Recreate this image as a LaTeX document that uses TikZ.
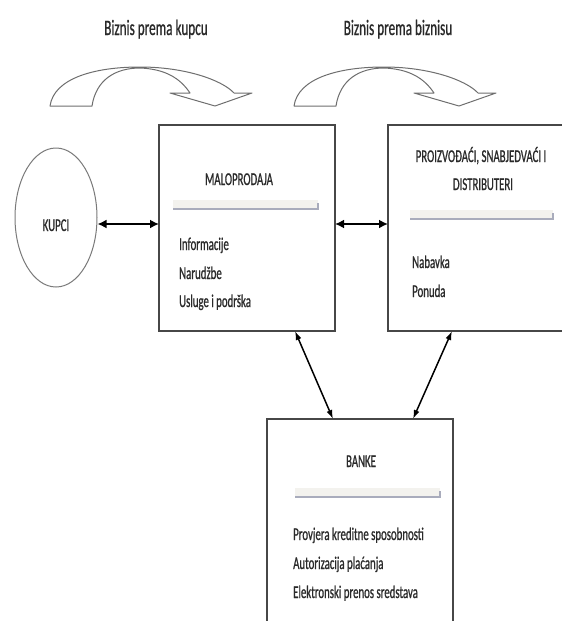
\documentclass[tikz,border=0pt]{standalone}
\usepackage{fontspec}
\setmainfont{Carlito}[FakeStretch=0.6,FakeBold=0.8]
\usetikzlibrary{arrows.meta,shapes.geometric}
\definecolor{txt}{HTML}{2A2A2A}
\definecolor{edge}{HTML}{474747}
\definecolor{sepfill}{HTML}{F3F2EE}
\definecolor{sepshade}{HTML}{A9ACBC}
\definecolor{curve}{HTML}{6E6E6E}
\definecolor{circ}{HTML}{7A7A7A}
\begin{document}
\begin{tikzpicture}[x=1pt,y=-1pt,
  box/.style={rectangle,inner sep=0pt,outer sep=0pt},
  lbl/.style={inner sep=0pt,text=txt,font=\fontsize{18}{20}\selectfont},
  ttl/.style={inner sep=0pt,text=txt,font=\fontsize{22}{24}\selectfont},
  bordr/.style={draw=edge,line width=1.3pt},
  thickarr/.style={{Latex[length=9pt,width=9pt]}-{Latex[length=9pt,width=9pt]},line width=2.6pt,black},
  thinarr/.style={{Latex[length=9pt,width=6pt]}-{Latex[length=9pt,width=6pt]},line width=1.5pt,black},
  sepbar/.style={fill=sepfill,draw=none},
  sepline/.style={draw=sepshade,line width=2.4pt},
  curvarrow/.pic={
    \draw[curve,line width=1pt,fill=white,line join=round]
      (50,106) .. controls (54,78) and (95,67) .. (140,67)
      .. controls (185,67) and (222,80) .. (234,93) -- (252,93) -- (215,106)
      -- (170,93) -- (190,93) .. controls (180,78) and (165,69) .. (140,68)
      .. controls (115,68) and (96,80) .. (92,106) -- cycle;
  }
]
\useasboundingbox (0,0) rectangle (562,621);

% titles and curved arrows
\node[ttl,anchor=base] (t1) at (156,35) {Biznis prema kupcu};
\node[ttl,anchor=base] (t2) at (398,35) {Biznis prema biznisu};
\pic at (0,0) {curvarrow};
\pic at (244,0) {curvarrow};

% KUPCI
\node[ellipse,draw=circ,fill=white,line width=1pt,minimum width=82pt,minimum height=139pt,inner sep=0pt] (kupci) at (56,217.5) {};
\node[lbl,anchor=base] (kupcit) at (56,231) {KUPCI};

% MALOPRODAJA
\node[box,bordr,fill=white,minimum width=176pt,minimum height=206pt,anchor=north west] (malo) at (159,125) {};
\node[lbl,anchor=base] (malot) at (239,185) {MALOPRODAJA};
\fill[sepbar] (173,200) rectangle (318,210);
\draw[sepline] (173,209) -- (318,209) -- (318,203);
\node[lbl,anchor=base west] (m1) at (179,250) {Informacije};
\node[lbl,anchor=base west] (m2) at (179,279) {Narudžbe};
\node[lbl,anchor=base west] (m3) at (179,307) {Usluge i podrška};

% PROIZVODACI
\node[box,minimum width=174pt,minimum height=206pt,anchor=north west] (prz) at (388,125) {};
\draw[bordr] (prz.north east) -- (prz.north west) -- (prz.south west) -- (prz.south east);
\node[lbl,anchor=base] (p1) at (481,162) {PROIZVOĐAĆI, SNABJEDVAĆI I};
\node[lbl,anchor=base] (p2) at (483,190) {DISTRIBUTERI};
\fill[sepbar] (410,210) rectangle (553,220);
\draw[sepline] (410,219) -- (553,219) -- (553,213);
\node[lbl,anchor=base west] (p3) at (412,268) {Nabavka};
\node[lbl,anchor=base west] (p4) at (412,297) {Ponuda};

% BANKE
\node[box,minimum width=186pt,minimum height=202pt,anchor=north west] (bnk) at (267,419) {};
\draw[bordr] (bnk.south west) -- (bnk.north west) -- (bnk.north east) -- (bnk.south east);
\node[lbl,anchor=base] (b0) at (361,467) {BANKE};
\fill[sepbar] (295,488) rectangle (440,498);
\draw[sepline] (295,497) -- (440,497) -- (440,491);
\node[lbl,anchor=base west] (b1) at (293,540) {Provjera kreditne sposobnosti};
\node[lbl,anchor=base west] (b2) at (293,569) {Autorizacija plaćanja};
\node[lbl,anchor=base west] (b3) at (293,598) {Elektronski prenos sredstava};

% connectors
\coordinate (ka) at ([yshift=-6.5pt]kupci.east);
\draw[thickarr] (ka) -- (ka -| malo.west);
\coordinate (mb) at ([yshift=4pt]malo.east);
\draw[thickarr] (mb) -- (mb -| prz.west);
\draw[thinarr] ([xshift=-40pt]malo.south east) -- ([xshift=66pt]bnk.north west);
\draw[thinarr] ([xshift=64pt]prz.south west) -- ([xshift=-40pt]bnk.north east);
\end{tikzpicture}
\end{document}
